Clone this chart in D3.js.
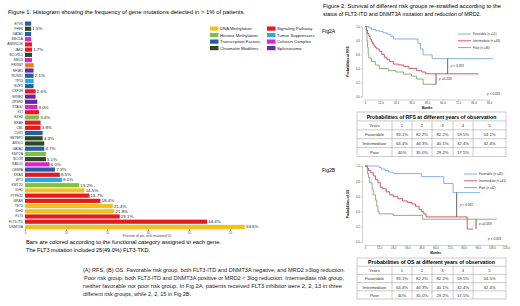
<!DOCTYPE html>
<html>
<head>
<meta charset="utf-8">
<script src="https://cdn.jsdelivr.net/npm/d3@7"></script>
<style>
  body { margin: 0; background: #fff; }
  svg { display: block; font-family: "Liberation Sans", Arial, sans-serif; }
</style>
</head>
<body>
<svg id="chart" width="520" height="306"></svg>
<script>
// ---- Figure 1 data (top to bottom) ----
const genes = ["ETV6","PHF6","GATA1","SMC1A","ANKRD26","JAK2","BCORL1","SMC3","FBXW7","SF3B1",
  "RUNX1","TP53","IKZF1","CSF3R","SRSF2","ZRSR2","STAG2","KIT","EZH2","BRAF",
  "CBL","CUX1","SETBP1","ASXL1","GATA2","KMT2A","BCOR","RAD21","CEBPA","KRAS",
  "WT1","KMT2D","IDH1","PTPN11","NRAS","TET2","IDH2","FLT3","FLT3-ITD","DNMT3A"];
const geneFreq = [1.5,1.5,1.5,1.5,1.7,1.7,1.7,1.7,2.1,2.1,
  2.1,2.1,2.1,2.6,2.6,3.0,3.0,3.4,3.4,3.8,
  3.8,4.3,4.3,4.7,4.7,5.1,5.1,6.0,7.3,8.5,
  9.0,13.2,14.5,15.7,18.4,21.4,21.8,23.1,44.4,53.6];
const geneCat = ["TF","CM","TF","CC","SP","SP","CM","CC","OT","SPL",
  "TF","TS","TF","SP","SPL","SPL","CC","SP","HM","SP",
  "SP","TF","CM","CM","TF","HM","CM","CC","TF","SP",
  "TS","HM","DM","SP","SP","DM","DM","SP","SP","DM"];
const geneLabel = ["","1.5%","","","","1.7%","","","","",
  "2.1%","","","2.6%","","","3.0%","","3.4%","",
  "3.8%","","4.3%","","4.7%","","5.1%","6.0%","7.3%","8.5%",
  "9.0%","13.2%","14.5%","15.7%","18.4%","21.4%","21.8%","23.1%","44.4%","53.6%"];
const xTicks1 = [0,10,20,30,40,50];

const catKeys = ["DM","HM","TF","CM","SP","TS","CC","SPL","OT"];
const catNames = ["DNA Methylation","Histone Methylation","Transcription Factors","Chromatin Modifiers",
  "Signaling Pathway","Tumor Suppressors","Cohesin Complex","Spliceosome","Other"];
const catColors = ["#f4c01e","#7cc142","#2a5ba8","#2c4a1c","#e8191c","#27aae1","#e020d4","#6b2b9b","#e8782a"];

// ---- Figure 2 data: Kaplan-Meier steps [month, probability] ----
const groups = ["Favorable","Intermediate","Poor"];
const groupColors = ["#6a9fd8","#c8304a","#6b9e5c"];
const rfsN = ["Favorable (n =51)","Intermediate (n =48)","Poor (n =36)"];
const osN = ["Favorable (n =46)","Intermediate (n =61)","Poor (n =42)"];

const rfsFav = [[0,1],[3,0.98],[5,0.96],[8,0.94],[11,0.931],[14,0.91],[17,0.89],[20,0.86],[22,0.822],
  [41,0.76],[43,0.68],[45,0.595],[52,0.541],[99,0.541]];
const rfsInt = [[0,1],[1,0.95],[2,0.9],[3,0.86],[4,0.82],[5,0.78],[6,0.75],[7,0.72],[8,0.7],[9,0.68],
  [11,0.644],[13,0.6],[15,0.56],[17,0.53],[19,0.5],[22,0.463],[26,0.45],[30,0.43],[34,0.401],
  [40,0.37],[44,0.35],[47,0.324],[88,0.324]];
const rfsPoor = [[0,1],[1,0.9],[1.5,0.8],[2,0.7],[2.5,0.6],[3,0.55],[5,0.5],[8,0.45],[11,0.4],
  [18,0.37],[24,0.35],[30,0.32],[36,0.292],[40,0.25],[45,0.175],[55,0.175]];

const osFav = [[0,1],[12,0.98],[14,0.96],[17,0.94],[20,0.92],[24,0.9],[48,0.86],[67,0.77],[75,0.65],[98,0.65]];
const osInt = [[0,1],[2,0.97],[3,0.94],[5,0.91],[7,0.87],[9,0.82],[11,0.78],[13,0.72],[15,0.7],[18,0.66],
  [21,0.62],[24,0.6],[28,0.57],[32,0.54],[36,0.52],[40,0.5],[43,0.47],[46,0.43],[48,0.4],
  [50,0.37],[52,0.33],[87,0.17],[92,0.17]];
const osPoor = [[0,1],[2,0.9],[3,0.85],[4,0.78],[6,0.7],[7,0.62],[9,0.55],[10,0.47],[11,0.4],[12,0.37],
  [24,0.35],[49,0.3],[112,0.3]];

// p-value brackets: [month, upper group, lower group, label]
const rfsP = [[64,0,1,"p < 0.001"],[55,1,2,"p =0.233"]];
const osP = [[78,0,1,"p < 0.001"],[94.5,2,1,"p =0.009"]];

const tableYears = ["Years","1","2","3","4","5"];
const rfsTable = [["93.1%","82.2%","82.2%","59.5%","54.1%"],
  ["64.4%","46.3%","40.1%","32.4%","32.4%"],
  ["40%","35.0%","29.2%","17.5%",""]];
const osTable = [["93.1%","82.2%","82.2%","59.5%","54.5%"],
  ["64.4%","46.3%","40.1%","32.4%","32.4%"],
  ["40%","35.0%","29.2%","17.5%",""]];

const svg = d3.select("#chart");

// ================= Figure 1 =================
svg.append("text").attr("x", 8).attr("y", 14).attr("font-size", 5.6)
  .attr("textLength", 237).attr("lengthAdjust", "spacingAndGlyphs")
  .text("Figure 1. Histogram showing the frequency of gene mutations detected in > 1% of patients.");

const x1 = d3.scaleLinear().domain([0, 50]).range([25, 230]);
const y1 = d3.scaleBand().domain(genes).range([21.5, 229]).paddingInner(0.2);
const color1 = d3.scaleOrdinal().domain(catKeys).range(catColors);

const rows = svg.append("g").selectAll("g").data(genes).join("g");
rows.append("rect")
  .attr("x", x1(0))
  .attr("y", d => y1(d))
  .attr("width", (d, i) => x1(geneFreq[i]) - x1(0))
  .attr("height", y1.bandwidth())
  .attr("fill", (d, i) => color1(geneCat[i]));
rows.append("text")
  .attr("x", 23).attr("y", d => y1(d) + y1.bandwidth() / 2)
  .attr("text-anchor", "end").attr("dominant-baseline", "central")
  .attr("font-size", 3.4).attr("fill", "#333")
  .text(d => d);
rows.append("text")
  .attr("x", (d, i) => x1(geneFreq[i]) + 1.2)
  .attr("y", d => y1(d) + y1.bandwidth() / 2)
  .attr("dominant-baseline", "central")
  .attr("font-size", 4.4).attr("fill", "#222")
  .text((d, i) => geneLabel[i]);

const ax1 = svg.append("g").attr("transform", "translate(0,229.5)")
  .call(d3.axisBottom(x1).tickValues(xTicks1).tickSize(1.5).tickPadding(1).tickFormat(d => d));
ax1.select(".domain").attr("stroke", "#ddd");
ax1.selectAll(".tick line").attr("stroke", "#999");
ax1.selectAll("text").attr("font-size", 3).attr("fill", "#555").attr("font-family", "Liberation Sans");
svg.append("text").attr("x", 147).attr("y", 237).attr("text-anchor", "middle")
  .attr("font-size", 3.4).attr("fill", "#444").text("Fraction of pts. with mutation(%)");

// legend (two columns)
const legRows = [0, 1, 2, 3];
[[210, 0], [267, 4]].forEach(([lx, off]) => {
  legRows.forEach(r => {
    const k = off + r;
    svg.append("rect").attr("x", lx).attr("y", 26.5 + r * 6.5).attr("width", 8.5).attr("height", 4.2)
      .attr("fill", catColors[k]);
    svg.append("text").attr("x", lx + 10).attr("y", 28.6 + r * 6.5).attr("dominant-baseline", "central")
      .attr("font-size", 4.3).attr("fill", "#222").text(catNames[k]);
  });
});

svg.append("text").attr("x", 26).attr("y", 244).attr("font-size", 5)
  .attr("textLength", 195).attr("lengthAdjust", "spacingAndGlyphs")
  .text("Bars are colored according to the functional category assigned to each gene.");
svg.append("text").attr("x", 26).attr("y", 252).attr("font-size", 5)
  .attr("textLength", 124).attr("lengthAdjust", "spacingAndGlyphs")
  .text("The FLT3 mutation included 25(49.0%) FLT3-TKD.");

const caption = [
  ["(A)  RFS, (B) OS. Favorable risk group, both FLT3-ITD and DNMT3A negative, and MRD2 \u22653log reduction.", 83, 262],
  [" Poor risk group, both FLT3-ITD and DNMT3A positive  or MRD2 < 3log reduction. Intermediate risk group,", 84, 260],
  ["neither favorable nor poor risk group. In Fig 2A, patients received FLT3 inhibitor were 2, 2, 13 in three", 83, 259],
  ["different risk groups, while 2, 2, 15 in Fig 2B.", 83, 108]
];
caption.forEach((c, i) => {
  svg.append("text").attr("x", c[1]).attr("y", 272 + i * 8).attr("font-size", 5)
    .attr("textLength", c[2]).attr("lengthAdjust", "spacingAndGlyphs").attr("fill", "#222").text(c[0]);
});

// ================= Figure 2 =================
svg.append("text").attr("x", 323).attr("y", 8).attr("font-size", 5.4)
  .attr("textLength", 178).attr("lengthAdjust", "spacingAndGlyphs")
  .text("Figure 2. Survival of different risk groups re-stratified according to the");
svg.append("text").attr("x", 323).attr("y", 16).attr("font-size", 5.4)
  .attr("textLength", 158).attr("lengthAdjust", "spacingAndGlyphs")
  .text("status of FLT3-ITD and DNMT3A mutation and reduction of MRD2.");

function stepAt(curve, m) {
  let v = curve[0][1];
  curve.forEach(p => { if (p[0] <= m) v = p[1]; });
  return v;
}

function kmPanel(cfg) {
  const g = svg.append("g");
  const x = d3.scaleLinear().domain([0, cfg.maxMonth]).range(cfg.xr);
  const y = d3.scaleLinear().domain([0, 1]).range(cfg.yr);

  g.append("text").attr("x", 322).attr("y", cfg.yr[1] + 6).attr("font-size", 5).text(cfg.tag);

  const ax = g.append("g").attr("transform", `translate(0,${cfg.yr[0] + 3})`)
    .call(d3.axisBottom(x).tickValues(d3.range(0, cfg.maxMonth + 1, 12)).tickSize(1.2).tickPadding(1)
      .tickFormat(d => d === 0 ? "0" : d.toFixed(1)));
  const ay = g.append("g").attr("transform", `translate(${cfg.xr[0] - 3},0)`)
    .call(d3.axisLeft(y).tickValues([0, 0.2, 0.4, 0.6, 0.8, 1]).tickSize(1.2).tickPadding(1)
      .tickFormat(d3.format(".1f")));
  [ax, ay].forEach(a => {
    a.select(".domain").attr("stroke", "#888").attr("stroke-width", 0.4);
    a.selectAll(".tick line").attr("stroke", "#888").attr("stroke-width", 0.4);
    a.selectAll("text").attr("font-size", 2.8).attr("fill", "#444").attr("font-family", "Liberation Sans");
  });
  g.append("text").attr("x", (cfg.xr[0] + cfg.xr[1]) / 2).attr("y", cfg.yr[0] + 12)
    .attr("text-anchor", "middle").attr("font-size", 3).attr("font-weight", "bold").text("Months");
  g.append("text").attr("transform", `translate(349,${(cfg.yr[0] + cfg.yr[1]) / 2}) rotate(-90)`)
    .attr("text-anchor", "middle").attr("font-size", 3.2).attr("font-weight", "bold").text(cfg.ylab);

  const line = d3.line().curve(d3.curveStepAfter).x(d => x(d[0])).y(d => y(d[1]));
  cfg.curves.forEach((c, i) => {
    g.append("path").attr("d", line(c)).attr("fill", "none")
      .attr("stroke", groupColors[i]).attr("stroke-width", 0.8);
  });

  // legend
  cfg.legend.forEach((t, i) => {
    const ly = cfg.legY + i * 6.8;
    g.append("line").attr("x1", cfg.legX).attr("x2", cfg.legX + 13).attr("y1", ly).attr("y2", ly)
      .attr("stroke", groupColors[i]).attr("stroke-width", 0.8);
    g.append("text").attr("x", cfg.legX + 15).attr("y", ly).attr("dominant-baseline", "central")
      .attr("font-size", 3).attr("fill", "#333").text(t);
  });

  // p-value brackets
  cfg.pvals.forEach(p => {
    const ya = y(stepAt(cfg.curves[p[1]], p[0]));
    const yb = y(stepAt(cfg.curves[p[2]], p[0]));
    g.append("line").attr("x1", x(p[0])).attr("x2", x(p[0])).attr("y1", ya).attr("y2", yb)
      .attr("stroke", "#555").attr("stroke-width", 0.9);
    g.append("text").attr("x", x(p[0]) + 3).attr("y", (ya + yb) / 2).attr("dominant-baseline", "central")
      .attr("font-size", 3.2).attr("font-style", "italic").attr("fill", "#333").text(p[3]);
  });
  g.append("text").attr("x", cfg.overall[0]).attr("y", cfg.overall[1]).attr("font-size", 3.2)
    .attr("font-style", "italic").attr("fill", "#333").text("p < 0.001");

  // table
  const cols = [357, 392, 412, 432, 453, 473, 506];
  const rh = cfg.rowH, ty = cfg.tableY;
  const tg = g.append("g");
  tg.append("rect").attr("x", cols[0]).attr("y", ty).attr("width", cols[6] - cols[0]).attr("height", rh * 5)
    .attr("fill", "#fff").attr("stroke", "#999").attr("stroke-width", 0.5);
  d3.range(1, 5).forEach(r => tg.append("line").attr("x1", cols[0]).attr("x2", cols[6])
    .attr("y1", ty + r * rh).attr("y2", ty + r * rh).attr("stroke", "#999").attr("stroke-width", 0.5));
  cols.slice(1, 6).forEach(cx => tg.append("line").attr("x1", cx).attr("x2", cx)
    .attr("y1", ty + rh).attr("y2", ty + 5 * rh).attr("stroke", "#999").attr("stroke-width", 0.5));
  tg.append("text").attr("x", (cols[0] + cols[6]) / 2).attr("y", ty + rh / 2 + 0.3)
    .attr("text-anchor", "middle").attr("dominant-baseline", "central")
    .attr("font-size", 5.2).attr("font-weight", "bold").text(cfg.tableTitle);
  const body = [tableYears].concat(cfg.table.map((r, i) => [groups[i]].concat(r)));
  body.forEach((r, ri) => r.forEach((t, ci) => {
    tg.append("text").attr("x", (cols[ci] + cols[ci + 1]) / 2).attr("y", ty + (ri + 1.5) * rh + 0.3)
      .attr("text-anchor", "middle").attr("dominant-baseline", "central")
      .attr("font-size", 4.3).attr("fill", "#333").text(t);
  }));
}

kmPanel({
  tag: "Fig2A", maxMonth: 96, xr: [365, 489], yr: [96.5, 26.5], ylab: "Probabilities of RFS",
  curves: [rfsFav, rfsInt, rfsPoor], legend: rfsN, legX: 458, legY: 34,
  pvals: rfsP, overall: [487, 95],
  tableY: 112, rowH: 8.9, table: rfsTable,
  tableTitle: "Probabilities of RFS at different years of observation"
});
kmPanel({
  tag: "Fig2B", maxMonth: 120, xr: [365, 506], yr: [242, 166], ylab: "Probabilities of OS",
  curves: [osFav, osInt, osPoor], legend: osN, legX: 464, legY: 174,
  pvals: osP, overall: [488, 240],
  tableY: 258, rowH: 8.2, table: osTable,
  tableTitle: "Probabilities of OS at different years of observation"
});
</script>
</body>
</html>
